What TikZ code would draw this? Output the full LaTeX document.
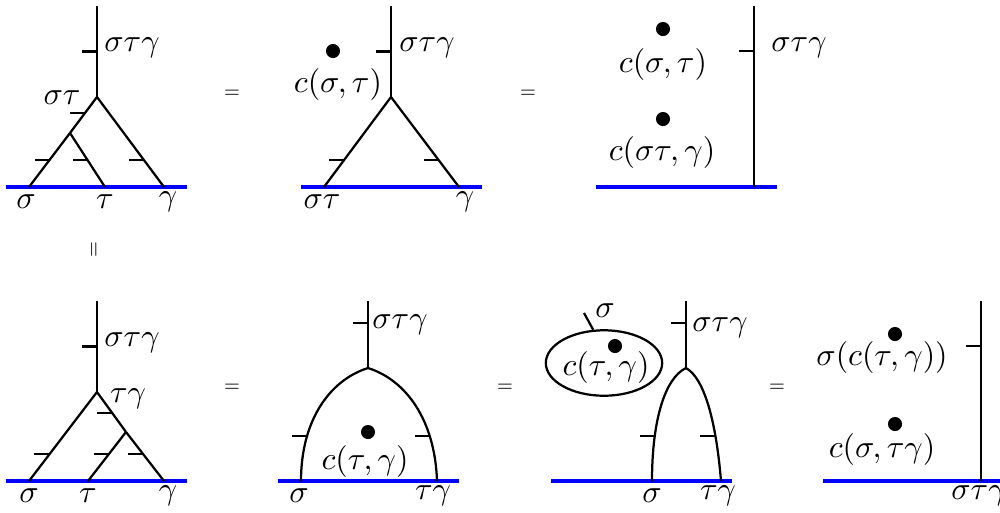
\documentclass[tikz,border=0pt]{standalone}
\usepackage{amsmath,amssymb}
\usepackage{tikz}
\usetikzlibrary{positioning,shapes.geometric,calc}

\begin{document}
\begin{tikzpicture}[
		x=0.011cm,y=-0.011cm,
		wire/.style={line width=0.7pt},
		bdry/.style={blue,line width=1.3pt},
		dot/.style={circle,fill,inner sep=0pt,minimum size=1.55mm},
		eq/.style={font=\sffamily\fontsize{6}{7}\selectfont},
		lbl/.style={inner sep=0pt}
		]
		\useasboundingbox (0,0) rectangle (1000,512);

		% first row, left
		\coordinate (a-top) at (97,6);
		\coordinate (a-v) at (97,97);
		\coordinate (a-w) at (70,133);
		\coordinate (a-s) at (29,187);
		\coordinate (a-t) at (105,187);
		\coordinate (a-g) at (164,187);
		\coordinate (a-l) at (6,187);
		\coordinate (a-r) at (187,187);
		\draw[bdry] (a-l) -- (a-r);
		\draw[wire] (a-top) -- (a-v) coordinate[pos=0.5] (a-k0);
		\draw[wire] (a-v) -- (a-w) coordinate[pos=0.44] (a-k1);
		\draw[wire] (a-w) -- (a-s) coordinate[pos=0.5] (a-k2);
		\draw[wire] (a-w) -- (a-t) coordinate[pos=0.5] (a-k3);
		\draw[wire] (a-v) -- (a-g) coordinate[pos=0.7] (a-k4);
		\foreach \k in {a-k0,a-k1,a-k2,a-k3,a-k4}
			\draw[wire] (\k) -- ++(-15,0);
		\node (a-lt) at (132,48) {$\sigma\tau\gamma$};
		\node (a-lm) at (62,98) {$\sigma\tau$};
		\node (a-ls) at (26,202) {$\sigma$};
		\node (a-ltau) at (105,202) {$\tau$};
		\node (a-lg) at (168,202) {$\gamma$};
		\node[eq] (eq1) at (232,94) {=};

		% first row, middle
		\coordinate (b-top) at (391,6);
		\coordinate (b-v) at (391,97);
		\coordinate (b-s) at (324,187);
		\coordinate (b-g) at (459,187);
		\coordinate (b-l) at (301,187);
		\coordinate (b-r) at (482,187);
		\draw[bdry] (b-l) -- (b-r);
		\draw[wire] (b-top) -- (b-v) coordinate[pos=0.5] (b-k0);
		\draw[wire] (b-v) -- (b-s) coordinate[pos=0.7] (b-k1);
		\draw[wire] (b-v) -- (b-g) coordinate[pos=0.7] (b-k2);
		\foreach \k in {b-k0,b-k1,b-k2}
			\draw[wire] (\k) -- ++(-15,0);
		\node[dot] (b-dot) at (333,51) {};
		\node (b-c) at (338,85) {$c(\sigma,\tau)$};
		\node (b-lt) at (427,48) {$\sigma\tau\gamma$};
		\node (b-ls) at (322,202) {$\sigma\tau$};
		\node (b-lg) at (465,202) {$\gamma$};
		\node[eq] (eq2) at (528,94) {=};

		% first row, right
		\coordinate (c-top) at (754,6);
		\coordinate (c-f) at (754,187);
		\coordinate (c-l) at (596,187);
		\coordinate (c-r) at (777,187);
		\draw[bdry] (c-l) -- (c-r);
		\draw[wire] (c-top) -- (c-f) coordinate[pos=0.25] (c-k0);
		\draw[wire] (c-k0) -- ++(-15,0);
		\node (c-lt) at (799,48) {$\sigma\tau\gamma$};
		\node[dot] (c-dot1) at (663,29) {};
		\node (c-c1) at (663,65) {$c(\sigma,\tau)$};
		\node[dot] (c-dot2) at (663,119) {};
		\node (c-c2) at (662,153) {$c(\sigma\tau,\gamma)$};

		\node[eq,rotate=90] (eq0) at (95,250) {=};

		% second row, left
		\coordinate (d-top) at (97,301);
		\coordinate (d-v) at (97,392);
		\coordinate (d-w) at (126,432);
		\coordinate (d-s) at (29,481);
		\coordinate (d-t) at (88,481);
		\coordinate (d-g) at (164,481);
		\coordinate (d-l) at (6,481);
		\coordinate (d-r) at (187,481);
		\draw[bdry] (d-l) -- (d-r);
		\draw[wire] (d-top) -- (d-v) coordinate[pos=0.5] (d-k0);
		\draw[wire] (d-v) -- (d-w) coordinate[pos=0.525] (d-k1);
		\draw[wire] (d-v) -- (d-s) coordinate[pos=0.7] (d-k2);
		\draw[wire] (d-w) -- (d-t) coordinate[pos=0.45] (d-k3);
		\draw[wire] (d-w) -- (d-g) coordinate[pos=0.45] (d-k4);
		\foreach \k in {d-k0,d-k1,d-k2,d-k3,d-k4}
			\draw[wire] (\k) -- ++(-15,0);
		\node (d-lt) at (132,343) {$\sigma\tau\gamma$};
		\node (d-lm) at (128,399) {$\tau\gamma$};
		\node (d-ls) at (29,496) {$\sigma$};
		\node (d-ltau) at (88,496) {$\tau$};
		\node (d-lg) at (168,496) {$\gamma$};
		\node[eq] (eq3) at (232,388) {=};

		% second row, second
		\coordinate (e-top) at (368,301);
		\coordinate (e-v) at (368,368);
		\coordinate (e-s) at (301,481);
		\coordinate (e-g) at (437,481);
		\coordinate (e-l) at (278,481);
		\coordinate (e-r) at (459,481);
		\draw[bdry] (e-l) -- (e-r);
		\draw[wire] (e-top) -- (e-v) coordinate[pos=0.33] (e-k0);
		\draw[wire] (e-v) .. controls (330,380) and (301,420) .. (e-s) coordinate[pos=0.73] (e-k1);
		\draw[wire] (e-v) .. controls (406,380) and (435,420) .. (e-g) coordinate[pos=0.73] (e-k2);
		\foreach \k in {e-k0,e-k1,e-k2}
			\draw[wire] (\k) -- ++(-15,0);
		\node (e-lt) at (400,325) {$\sigma\tau\gamma$};
		\node[dot] (e-dot) at (368,432) {};
		\node (e-c) at (365,461) {$c(\tau,\gamma)$};
		\node (e-ls) at (299,496) {$\sigma$};
		\node (e-lg) at (433,496) {$\tau\gamma$};
		\node[eq] (eq4) at (505,388) {=};

		% second row, third
		\coordinate (f-top) at (686,301);
		\coordinate (f-v) at (686,368);
		\coordinate (f-s) at (652,481);
		\coordinate (f-g) at (721,481);
		\coordinate (f-l) at (551,481);
		\coordinate (f-r) at (732,481);
		\draw[bdry] (f-l) -- (f-r);
		\draw[wire] (f-top) -- (f-v) coordinate[pos=0.33] (f-k0);
		\draw[wire] (f-v) .. controls (665,378) and (652,420) .. (f-s) coordinate[pos=0.73] (f-k1);
		\draw[wire] (f-v) .. controls (704,378) and (716,420) .. (f-g) coordinate[pos=0.73] (f-k2);
		\foreach \k in {f-k0,f-k1,f-k2}
			\draw[wire] (\k) -- ++(-15,0);
		\node (f-lt) at (720,328) {$\sigma\tau\gamma$};
		\node[draw,wire,ellipse,minimum width=1.28cm,minimum height=0.72cm] (orb) at (604,363) {};
		\coordinate (orb-k) at (584,313);
		\draw[wire] (orb.108) -- (orb-k);
		\node (orb-ls) at (605,311) {$\sigma$};
		\node[dot] (f-dot) at (615,346) {};
		\node (f-c) at (606,367) {$c(\tau,\gamma)$};
		\node (f-ls) at (652,496) {$\sigma$};
		\node (f-lg) at (718,496) {$\tau\gamma$};
		\node[eq] (eq5) at (777,388) {=};

		% second row, right
		\coordinate (g-top) at (981,301);
		\coordinate (g-f) at (981,481);
		\coordinate (g-l) at (823,481);
		\coordinate (g-r) at (1000,481);
		\draw[bdry] (g-l) -- (g-r);
		\draw[wire] (g-top) -- (g-f) coordinate[pos=0.25] (g-k0);
		\draw[wire] (g-k0) -- ++(-15,0);
		\node[dot] (g-dot1) at (895,334) {};
		\node (g-c1) at (882,358) {$\sigma(c(\tau,\gamma))$};
		\node[dot] (g-dot2) at (895,424) {};
		\node (g-c2) at (882,449) {$c(\sigma,\tau\gamma)$};
		\node (g-lt) at (979,496) {$\sigma\tau\gamma$};
	\end{tikzpicture}
\end{document}
